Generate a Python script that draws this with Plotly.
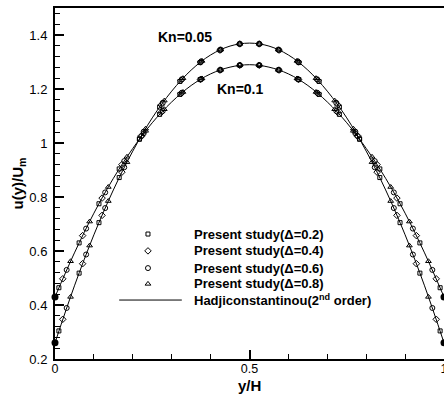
import plotly.graph_objects as go

# ---- Data ----
# Analytical curves (Hadjiconstantinou 2nd order), y/H samples
curve_x = [0.00, 0.05, 0.10, 0.15, 0.20, 0.25, 0.30, 0.35, 0.40, 0.45, 0.50,
           0.55, 0.60, 0.65, 0.70, 0.75, 0.80, 0.85, 0.90, 0.95, 1.00]
curve_kn005 = [0.260, 0.471, 0.660, 0.826, 0.970, 1.093, 1.192, 1.270, 1.326, 1.359, 1.370,
               1.359, 1.326, 1.270, 1.192, 1.093, 0.970, 0.826, 0.660, 0.471, 0.260]
curve_kn01 = [0.430, 0.593, 0.740, 0.869, 0.980, 1.075, 1.152, 1.213, 1.256, 1.281, 1.290,
              1.281, 1.256, 1.213, 1.152, 1.075, 0.980, 0.869, 0.740, 0.593, 0.430]

# Present study, positions of the points for each Delta
x_d02 = [0.010, 0.062, 0.113, 0.165, 0.217, 0.269, 0.321, 0.373, 0.424, 0.475,
         0.525, 0.576, 0.627, 0.679, 0.731, 0.783, 0.835, 0.887, 0.938, 0.990]
x_d04 = [0.020, 0.071, 0.121, 0.172, 0.222, 0.273, 0.324, 0.374, 0.424, 0.475,
         0.525, 0.576, 0.626, 0.676, 0.727, 0.778, 0.828, 0.879, 0.929, 0.980]
x_d06 = [0.030, 0.080, 0.129, 0.178, 0.228, 0.277, 0.326, 0.376, 0.426, 0.475,
         0.525, 0.574, 0.624, 0.674, 0.723, 0.772, 0.822, 0.871, 0.920, 0.970]
x_d08 = [0.040, 0.089, 0.137, 0.185, 0.233, 0.281, 0.329, 0.378, 0.426, 0.475,
         0.525, 0.574, 0.622, 0.671, 0.719, 0.767, 0.815, 0.863, 0.911, 0.960]

# Kn = 0.05
y005_d02 = [0.304, 0.518, 0.705, 0.872, 1.014, 1.133, 1.228, 1.298, 1.344, 1.367,
            1.367, 1.344, 1.298, 1.228, 1.133, 1.014, 0.872, 0.705, 0.518, 0.304]
y005_d04 = [0.347, 0.553, 0.732, 0.892, 1.027, 1.141, 1.232, 1.300, 1.344, 1.367,
            1.367, 1.344, 1.300, 1.232, 1.141, 1.027, 0.892, 0.732, 0.553, 0.347]
y005_d06 = [0.389, 0.587, 0.759, 0.910, 1.042, 1.149, 1.236, 1.302, 1.346, 1.367,
            1.367, 1.346, 1.302, 1.236, 1.149, 1.042, 0.910, 0.759, 0.587, 0.389]
y005_d08 = [0.430, 0.620, 0.785, 0.929, 1.053, 1.157, 1.240, 1.304, 1.346, 1.367,
            1.367, 1.346, 1.304, 1.240, 1.157, 1.053, 0.929, 0.785, 0.620, 0.430]
# Kn = 0.1
y01_d02 = [0.464, 0.630, 0.775, 0.904, 1.015, 1.106, 1.180, 1.235, 1.270, 1.288,
           1.288, 1.270, 1.235, 1.180, 1.106, 1.015, 0.904, 0.775, 0.630, 0.464]
y01_d04 = [0.497, 0.657, 0.796, 0.920, 1.024, 1.113, 1.183, 1.235, 1.270, 1.288,
           1.288, 1.270, 1.235, 1.183, 1.113, 1.024, 0.920, 0.796, 0.657, 0.497]
y01_d06 = [0.530, 0.683, 0.817, 0.933, 1.036, 1.119, 1.186, 1.237, 1.271, 1.288,
           1.288, 1.271, 1.237, 1.186, 1.119, 1.036, 0.933, 0.817, 0.683, 0.530]
y01_d08 = [0.562, 0.709, 0.837, 0.949, 1.045, 1.125, 1.189, 1.239, 1.271, 1.288,
           1.288, 1.271, 1.239, 1.189, 1.125, 1.045, 0.949, 0.837, 0.709, 0.562]

# Wall slip values (filled dots)
wall_x = [0.0, 0.0, 1.0, 1.0]
wall_y = [0.260, 0.430, 0.260, 0.430]

legend_labels = ["Present study(Δ=0.2)", "Present study(Δ=0.4)",
                 "Present study(Δ=0.6)", "Present study(Δ=0.8)"]
x_ticks = [0, 0.5, 1]
x_ticklabels = ["0", "0.5", "1"]
y_ticks = [0.2, 0.4, 0.6, 0.8, 1.0, 1.2, 1.4]
y_ticklabels = ["0.2", "0.4", "0.6", "0.8", "1", "1.2", "1.4"]

# ---- Figure ----
FONT = "Liberation Sans, Arial, sans-serif"
fig = go.Figure()

for cy in (curve_kn005, curve_kn01):
    fig.add_trace(go.Scatter(x=curve_x, y=cy, mode="lines",
                             line=dict(color="black", width=1, shape="spline"),
                             showlegend=False, hoverinfo="skip"))

symbols = ["square-open", "diamond-open", "circle-open", "triangle-up-open"]
sizes = [4, 5, 5, 5]
series = [(x_d02, y005_d02, y01_d02), (x_d04, y005_d04, y01_d04),
          (x_d06, y005_d06, y01_d06), (x_d08, y005_d08, y01_d08)]
for (xs, ya, yb), sym, sz in zip(series, symbols, sizes):
    for ys in (ya, yb):
        fig.add_trace(go.Scatter(x=xs, y=ys, mode="markers",
                                 marker=dict(symbol=sym, size=sz, color="black",
                                             line=dict(width=1, color="black")),
                                 showlegend=False))

fig.add_trace(go.Scatter(x=wall_x, y=wall_y, mode="markers", cliponaxis=False,
                         marker=dict(symbol="circle", size=7, color="black"),
                         showlegend=False))

# ---- Manual legend (in plot-area fractions on an overlay axis) ----
leg_rows = [0.356, 0.308, 0.259, 0.214, 0.168]
leg_sym_x = 0.239
leg_text_x = 0.352
for i, (sym, sz) in enumerate(zip(symbols, sizes)):
    fig.add_trace(go.Scatter(x=[leg_sym_x], y=[leg_rows[i]], mode="markers",
                             xaxis="x2", yaxis="y2",
                             marker=dict(symbol=sym, size=sz, color="black",
                                         line=dict(width=1, color="black")),
                             showlegend=False, hoverinfo="skip"))
labels_all = legend_labels + ["Hadjiconstantinou(2<sup>nd</sup> order)"]
for lab, ry in zip(labels_all, leg_rows):
    fig.add_annotation(x=leg_text_x, y=ry, xref="paper", yref="paper",
                       text="<b>" + lab + "</b>", showarrow=False,
                       xanchor="left", yanchor="middle",
                       font=dict(family=FONT, size=13, color="black"))
fig.add_shape(type="line", xref="paper", yref="paper",
              x0=0.165, x1=0.326, y0=leg_rows[4], y1=leg_rows[4],
              line=dict(color="black", width=1))

# Kn labels
fig.add_annotation(x=0.334, y=1.393, text="<b>Kn=0.05</b>", showarrow=False,
                   font=dict(family=FONT, size=14, color="black"))
fig.add_annotation(x=0.478, y=1.200, text="<b>Kn=0.1</b>", showarrow=False,
                   font=dict(family=FONT, size=14, color="black"))

# x-axis title as an annotation for exact placement below the tick labels
fig.add_annotation(x=0.5, y=0, xref="paper", yref="paper", yanchor="top",
                   yshift=-16, text="<b>y/H</b>", showarrow=False,
                   font=dict(family=FONT, size=15, color="black"))

fig.update_layout(
    width=444, height=394,
    margin=dict(l=55, r=0, t=8, b=35),
    paper_bgcolor="white", plot_bgcolor="white",
    font=dict(family=FONT, size=13, color="black"),
    showlegend=False,
    xaxis=dict(range=[0, 1], tickvals=x_ticks, ticktext=x_ticklabels,
               ticks="inside", ticklen=9, tickwidth=1.5, tickcolor="black",
               ticklabelstandoff=-3, ticklabeloverflow="allow",
               tickfont=dict(size=12.5),
               minor=dict(dtick=0.1, tick0=0, ticks="inside", ticklen=5,
                          tickwidth=1, tickcolor="black"),
               showline=True, linecolor="black", linewidth=2, mirror=True,
               showgrid=False, zeroline=False, automargin=False),
    yaxis=dict(range=[0.2, 1.5], tickvals=y_ticks, ticktext=y_ticklabels,
               ticks="inside", ticklen=9, tickwidth=1.5, tickcolor="black",
               ticklabelstandoff=3,
               minor=dict(dtick=0.04, tick0=0.2, ticks="inside", ticklen=5,
                          tickwidth=1, tickcolor="black"),
               showline=True, linecolor="black", linewidth=2, mirror=False,
               showgrid=False, zeroline=False, automargin=False,
               title=dict(text="<b>u(y)/U<sub>m</sub></b>", font=dict(size=15),
                          standoff=2)),
    xaxis2=dict(range=[0, 1], overlaying="x", visible=False, fixedrange=True),
    yaxis2=dict(range=[0, 1], overlaying="y", visible=False, fixedrange=True),
)

fig.write_html("out.html")
